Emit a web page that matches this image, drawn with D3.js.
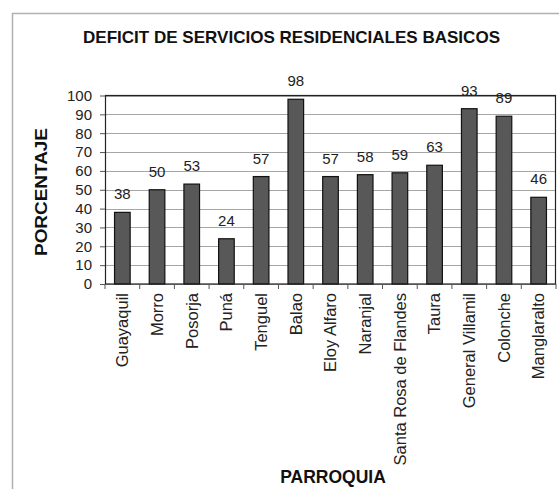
<!DOCTYPE html>
<html>
<head>
<meta charset="utf-8">
<script src="https://cdn.jsdelivr.net/npm/d3@7"></script>
<style>
  body { margin: 0; background: #fff; }
  svg { display: block; font-family: "Liberation Sans", Arial, sans-serif; }
</style>
</head>
<body>
<script>
// data
var parroquias = ["Guayaquil", "Morro", "Posorja", "Puná", "Tenguel", "Balao", "Eloy Alfaro",
    "Naranjal", "Santa Rosa de Flandes", "Taura", "General Villamil", "Colonche", "Manglaralto"];
var porcentajes = [38, 50, 53, 24, 57, 98, 57, 58, 59, 63, 93, 89, 46];
var yTicks = [0, 10, 20, 30, 40, 50, 60, 70, 80, 90, 100];

var W = 559, H = 489;
var plot = { left: 105, right: 556, top: 95.5, bottom: 284 };

var svg = d3.select("body").append("svg")
    .attr("width", W)
    .attr("height", H);

svg.append("rect").attr("width", W).attr("height", H).attr("fill", "#fff");

// outer chart frame (only left and top edges show in the crop)
svg.append("path")
    .attr("d", "M12.5," + H + "V13.5H" + W)
    .attr("fill", "none")
    .attr("stroke", "#b0b0b0")
    .attr("stroke-width", 1.5);

var x = d3.scaleBand()
    .domain(parroquias)
    .range([plot.left, plot.right])
    .paddingInner(0.55)
    .paddingOuter(0.275);

var y = d3.scaleLinear()
    .domain([0, 100])
    .range([plot.bottom, plot.top]);

// gridlines
svg.append("g")
    .selectAll("line")
    .data(yTicks)
    .enter()
    .append("line")
    .attr("x1", plot.left)
    .attr("x2", plot.right)
    .attr("y1", function(d) { return Math.round(y(d)) + 0.5; })
    .attr("y2", function(d) { return Math.round(y(d)) + 0.5; })
    .attr("stroke", "#a6a6a6")
    .attr("stroke-width", 1);

// bars
svg.append("g")
    .selectAll("rect")
    .data(porcentajes)
    .enter()
    .append("rect")
    .attr("x", function(d, i) { return x(parroquias[i]); })
    .attr("y", function(d) { return y(d); })
    .attr("width", x.bandwidth())
    .attr("height", function(d) { return y(0) - y(d); })
    .attr("fill", "#585858")
    .attr("stroke", "#111")
    .attr("stroke-width", 1.2);

// plot box
svg.append("rect")
    .attr("x", plot.left + 0.5)
    .attr("y", plot.top)
    .attr("width", plot.right - plot.left - 1)
    .attr("height", plot.bottom - plot.top)
    .attr("fill", "none")
    .attr("stroke", "#222")
    .attr("stroke-width", 1.2);

// y axis
var yAxis = svg.append("g")
    .attr("transform", "translate(" + plot.left + ",0)")
    .call(d3.axisLeft(y).tickValues(yTicks).tickSize(5).tickPadding(8));
yAxis.select(".domain").remove();
yAxis.selectAll("line").attr("stroke", "#555");
yAxis.selectAll("text")
    .style("font-size", "15px")
    .style("font-family", "'Liberation Sans', Arial, sans-serif")
    .attr("fill", "#222");

// x axis, labels rotated
var xAxis = svg.append("g")
    .attr("transform", "translate(0," + plot.bottom + ")")
    .call(d3.axisBottom(x).tickSize(0).tickPadding(0));
xAxis.select(".domain").remove();
xAxis.selectAll("text")
    .attr("transform", "rotate(-90)")
    .attr("text-anchor", "end")
    .attr("x", -9)
    .attr("y", 0)
    .attr("dy", "0.35em")
    .style("font-size", "16.5px")
    .style("font-family", "'Liberation Sans', Arial, sans-serif")
    .attr("fill", "#222");

// tick marks between categories
var slot = x.step();
svg.append("g")
    .selectAll("line")
    .data(parroquias.concat(["_end"]))
    .enter()
    .append("line")
    .attr("x1", function(d, i) { return plot.left + i * slot; })
    .attr("x2", function(d, i) { return plot.left + i * slot; })
    .attr("y1", plot.bottom)
    .attr("y2", plot.bottom + 5)
    .attr("stroke", "#555");

// value labels
svg.append("g")
    .selectAll("text")
    .data(porcentajes)
    .enter()
    .append("text")
    .attr("x", function(d, i) { return x(parroquias[i]) + x.bandwidth() / 2; })
    .attr("y", function(d) { return y(d) - 13; })
    .attr("text-anchor", "middle")
    .style("font-size", "15px")
    .attr("fill", "#222")
    .text(function(d) { return d; });

// title
svg.append("text")
    .attr("x", 291.5)
    .attr("y", 43)
    .attr("text-anchor", "middle")
    .attr("textLength", 417)
    .attr("lengthAdjust", "spacingAndGlyphs")
    .style("font-size", "17px")
    .style("font-weight", "bold")
    .attr("fill", "#111")
    .text("DEFICIT DE SERVICIOS RESIDENCIALES BASICOS");

// axis titles
svg.append("text")
    .attr("transform", "translate(47,192) rotate(-90)")
    .attr("text-anchor", "middle")
    .attr("textLength", 128)
    .attr("lengthAdjust", "spacingAndGlyphs")
    .style("font-size", "17px")
    .style("font-weight", "bold")
    .attr("fill", "#111")
    .text("PORCENTAJE");

svg.append("text")
    .attr("x", 333)
    .attr("y", 483)
    .attr("text-anchor", "middle")
    .style("font-size", "17.5px")
    .style("font-weight", "bold")
    .attr("fill", "#111")
    .text("PARROQUIA");
</script>
</body>
</html>
